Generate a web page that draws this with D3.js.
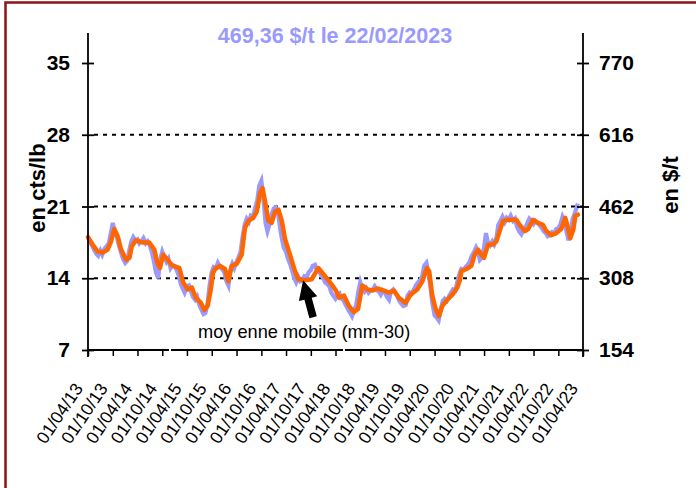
<!DOCTYPE html>
<html>
<head>
<meta charset="utf-8">
<script src="https://cdn.jsdelivr.net/npm/d3@7"></script>
<style>
  body { margin: 0; background: #fff; }
  svg text { font-family: Arial, "Liberation Sans", sans-serif; }
</style>
</head>
<body>
<div id="chart"></div>
<script>
// moving average (mm-30)
var maDates = ["2013-04-01","2013-05-05","2013-06-11","2013-07-18","2013-08-24","2013-09-18","2013-10-12","2013-11-06","2013-12-01",
  "2014-01-07","2014-02-01","2014-02-18","2014-03-20","2014-05-08","2014-06-26","2014-08-03","2014-08-28","2014-09-14","2014-10-08","2014-11-10","2014-12-16",
  "2015-02-04","2015-03-04","2015-04-06","2015-05-07","2015-06-06","2015-07-13","2015-08-07","2015-09-01","2015-09-25","2015-10-10","2015-10-25","2015-12-01",
  "2016-01-07","2016-02-01","2016-02-25","2016-04-02","2016-05-09","2016-06-02","2016-06-27","2016-08-03","2016-08-28","2016-09-22","2016-10-09","2016-10-28","2016-11-22","2016-12-16",
  "2017-01-10","2017-02-04","2017-03-01","2017-03-25","2017-04-30","2017-06-06","2017-07-01","2017-08-18","2017-10-07","2017-11-25",
  "2018-01-14","2018-03-03","2018-04-04","2018-04-27","2018-06-03","2018-07-09","2018-08-15","2018-09-14","2018-10-16","2018-11-22","2018-12-28",
  "2019-02-04","2019-03-24","2019-04-30","2019-06-06","2019-07-12","2019-09-01","2019-10-07","2019-11-25",
  "2020-01-02","2020-02-04","2020-02-21","2020-03-15","2020-04-09","2020-05-03","2020-05-28","2020-07-04","2020-08-10","2020-09-16","2020-10-06","2020-10-16","2020-11-22","2020-12-28",
  "2021-01-22","2021-02-16","2021-03-11","2021-04-01","2021-05-01","2021-06-07","2021-07-01","2021-07-25","2021-08-19","2021-09-25","2021-11-01","2021-11-25","2021-12-20",
  "2022-01-27","2022-02-21","2022-03-28","2022-05-04","2022-06-10","2022-07-04","2022-08-10","2022-09-16","2022-10-22","2022-11-21","2022-12-12","2022-12-28",
  "2023-01-19","2023-02-04","2023-02-22"];
var maValues = [18.0,17.3,16.6,16.5,16.8,17.6,18.8,18.1,16.8,
  15.8,16.0,17.1,17.7,17.5,17.5,16.8,15.4,15.0,16.3,15.8,15.2,
  15.0,13.6,12.9,13.1,12.1,11.6,10.9,11.3,13.0,14.5,14.9,15.2,
  14.9,13.7,15.2,15.4,16.3,18.9,19.6,19.9,20.5,22.3,22.8,21.5,19.6,19.4,
  20.5,20.7,19.6,17.8,16.3,14.7,13.9,13.8,13.9,15.0,
  14.2,13.4,12.8,12.1,12.3,11.3,10.7,11.0,13.3,12.9,12.8,
  13.0,12.8,12.6,12.8,12.1,11.6,12.4,12.9,
  13.7,15.0,14.7,12.3,11.0,10.3,11.3,11.9,12.4,13.1,13.9,14.7,14.9,15.2,
  16.3,16.8,16.3,16.0,17.3,17.3,17.6,18.6,19.6,19.7,19.7,19.7,19.2,
  18.6,18.8,19.7,19.4,19.2,18.6,18.2,18.4,18.8,19.9,18.9,17.9,
  18.7,20.1,20.2];

// daily price, sampled on the 1st and 15th of each month from 01/04/2013
var priceStart = "2013-04-01";
var prices = [
  18.0,17.6, 17.2,16.8, 16.4,16.2, 16.7,16.3, 16.9,17.1, 17.4,18.3, 19.4,18.6, 18.0,17.2, 16.5,15.9,
  15.5,15.7, 16.8,17.6, 18.0,17.7, 17.8,17.4, 17.6,17.9, 17.4,17.6, 17.2,16.6, 15.6,14.6, 14.0,15.8, 16.6,16.1, 15.6,15.9, 15.0,15.3,
  15.2,14.8, 14.2,13.4, 13.0,12.6, 13.2,13.3, 12.7,12.2, 11.9,12.2, 11.4,11.0, 10.5,10.6, 11.6,13.3, 14.6,15.1, 15.0,15.5, 15.1,14.9,
  14.6,13.8, 13.3,14.8, 15.4,15.0, 15.6,16.0, 16.6,18.0, 19.3,19.8, 19.5,20.1, 20.0,20.8, 21.6,23.0, 23.5,22.0, 19.4,18.6, 19.3,20.2,
  20.8,20.9, 20.4,19.0, 17.9,17.0, 16.6,15.9, 15.4,14.8, 14.0,13.6, 14.1,13.7, 13.8,14.2, 14.1,14.6, 14.8,15.2, 15.3,14.8, 14.7,14.3,
  14.0,13.6, 13.4,13.2, 12.6,12.3, 12.0,12.3, 12.5,12.0, 11.8,11.4, 11.0,10.7, 10.3,10.8, 11.4,12.6, 13.6,13.0, 12.7,13.0, 12.6,12.8,
  12.9,13.2, 12.8,12.7, 12.4,12.8, 12.6,12.2, 11.9,12.7, 12.9,12.6, 12.3,11.8, 11.5,11.3, 11.4,12.3, 12.6,12.5, 12.9,13.3, 13.6,13.8,
  14.2,15.2, 15.5,14.6, 13.2,11.6, 10.4,10.2, 9.9,10.9, 11.8,12.0, 11.8,12.2, 12.6,12.9, 12.8,13.6, 14.4,14.9, 14.8,15.1, 15.3,15.6,
  16.2,16.5, 17.0,16.6, 15.8,16.0, 17.0,18.4, 17.4,17.2, 17.6,17.3, 17.9,19.2, 19.6,20.0, 19.5,19.9, 19.7,20.1, 19.6,19.8, 19.0,18.6,
  18.3,18.7, 18.9,19.4, 19.8,19.6, 19.3,19.6, 19.4,19.2, 18.9,18.6, 18.4,18.1, 18.2,18.5, 18.4,18.8, 18.9,19.2, 20.0,19.6, 18.5,17.7,
  18.6,19.8, 20.4,21.0];
var lastDate = "2023-02-22";
var lastPrice = 21.29;   // 469,36 $/t

var leftTicks = [7, 14, 21, 28, 35];
var rightTicks = [154, 308, 462, 616, 770];
var gridTicks = [14, 21, 28];
var xTickDates = ["2013-04-01","2013-10-01","2014-04-01","2014-10-01","2015-04-01","2015-10-01","2016-04-01",
  "2016-10-01","2017-04-01","2017-10-01","2018-04-01","2018-10-01","2019-04-01","2019-10-01","2020-04-01",
  "2020-10-01","2021-04-01","2021-10-01","2022-04-01","2022-10-01","2023-04-01"];
var titleText = "469,36 $/t le 22/02/2023";
var noteText = "moy enne mobile (mm-30)";
var noteDate = "2017-08-05", noteValue = 13.8;

var parse = d3.timeParse("%Y-%m-%d");
var fmt = d3.timeFormat("%d/%m/%y");

var W = 696, H = 488;
var svg = d3.select("#chart").append("svg").attr("width", W).attr("height", H);

var x = d3.scaleTime().domain([parse("2013-04-01"), parse("2023-04-01")]).range([88, 583]);
var yL = d3.scaleLinear().domain([7, 35]).range([350, 63]);
var yR = d3.scaleLinear().domain([154, 770]).range([350, 63]);

// frame
svg.append("rect").attr("x", 5.5).attr("y", 2.5).attr("width", 720).attr("height", 520)
  .attr("fill", "none").attr("stroke", "#8b1414").attr("stroke-width", 2.5);

// title
svg.append("text").attr("x", 335).attr("y", 43).attr("text-anchor", "middle")
  .style("font-size", "21.5px").style("font-weight", "bold").attr("fill", "#9999ff")
  .text(titleText);

// grid
svg.selectAll(".grid").data(gridTicks).enter().append("line")
  .attr("x1", 94).attr("x2", 583)
  .attr("y1", function (d) { return yL(d); }).attr("y2", function (d) { return yL(d); })
  .attr("stroke", "#000").attr("stroke-width", 1.8).attr("stroke-dasharray", "4,5");

// price line
var priceData = prices.map(function (v, i) {
  var dt = d3.timeMonth.offset(parse(priceStart), Math.floor(i / 2));
  if (i % 2) dt = d3.timeDay.offset(dt, 14);
  return { date: dt, value: v };
});
priceData.push({ date: parse(lastDate), value: lastPrice });

var line = d3.line().x(function (d) { return x(d.date); }).y(function (d) { return yL(d.value); });

svg.append("path").datum(priceData).attr("d", line)
  .attr("fill", "none").attr("stroke", "#9999ff").attr("stroke-width", 4.2);

var maData = maDates.map(function (d, i) { return { date: parse(d), value: maValues[i] }; });
svg.append("path").datum(maData).attr("d", line)
  .attr("fill", "none").attr("stroke", "#ff6600").attr("stroke-width", 4.5)
  .attr("stroke-linejoin", "round").attr("stroke-linecap", "round");

// axes
var axL = svg.append("g").attr("transform", "translate(88,0)")
  .call(d3.axisLeft(yL).tickValues(leftTicks).tickSize(6).tickPadding(12));
var axR = svg.append("g").attr("transform", "translate(583,0)")
  .call(d3.axisRight(yR).tickValues(rightTicks).tickSize(6).tickPadding(10));
[axL, axR].forEach(function (g) {
  g.select(".domain").remove();
  g.selectAll(".tick line").attr("x1", function () { return -d3.select(this).attr("x2"); })
    .attr("stroke-width", 1.8);
  g.selectAll("text").style("font-size", "21px").style("font-weight", "bold")
    .attr("font-family", null);
});
svg.append("line").attr("x1", 88).attr("x2", 88).attr("y1", 33).attr("y2", 357).attr("stroke", "#000").attr("stroke-width", 1.8);
svg.append("line").attr("x1", 583).attr("x2", 583).attr("y1", 33).attr("y2", 357).attr("stroke", "#000").attr("stroke-width", 1.8);

var axB = svg.append("g").attr("transform", "translate(0,350)")
  .call(d3.axisBottom(x).tickValues(xTickDates.map(parse)).tickFormat(fmt).tickSize(6));
axB.select(".domain").remove();
axB.selectAll(".tick line").attr("stroke-width", 1.5);
axB.selectAll("text").attr("font-family", null)
  .style("font-size", "17.5px").attr("text-anchor", "end")
  .attr("x", 0).attr("y", 0).attr("dy", "0.35em")
  .attr("transform", "translate(-10,35) rotate(-56)");
svg.append("line").attr("x1", 88).attr("x2", 583).attr("y1", 350).attr("y2", 350)
  .attr("stroke", "#000").attr("stroke-width", 1.8);
// small breaks of the axis line under the note box
[170, 344].forEach(function (bx) {
  svg.append("rect").attr("x", bx - 1).attr("y", 348).attr("width", 2).attr("height", 4).attr("fill", "#fff");
});

// axis titles
svg.append("text").attr("transform", "translate(45,188) rotate(-90)").attr("text-anchor", "middle")
  .style("font-size", "22px").style("font-weight", "bold").text("en cts/lb");
svg.append("text").attr("transform", "translate(678,185) rotate(-90)").attr("text-anchor", "middle")
  .style("font-size", "22px").style("font-weight", "bold").text("en $/t");

// note and arrow
var tipX = x(parse(noteDate)), tipY = yL(noteValue);
var tailX = tipX + 10, tailY = tipY + 37;
var ang = Math.atan2(tipY - tailY, tipX - tailX);
var ux = Math.cos(ang), uy = Math.sin(ang), px = -uy, py = ux;
var headL = 19, headW = 9.5, shaftW = 3.8;
var bx0 = tipX - ux * headL, by0 = tipY - uy * headL;
var pts = [
  [tipX, tipY],
  [bx0 + px * headW, by0 + py * headW],
  [bx0 + px * shaftW, by0 + py * shaftW],
  [tailX + px * shaftW, tailY + py * shaftW],
  [tailX - px * shaftW, tailY - py * shaftW],
  [bx0 - px * shaftW, by0 - py * shaftW],
  [bx0 - px * headW, by0 - py * headW]
];
svg.append("path").attr("d", "M" + pts.map(function (p) { return p.join(","); }).join("L") + "Z")
  .attr("fill", "#000");
svg.append("text").attr("x", 198).attr("y", 338).style("font-size", "18.2px").text(noteText);
</script>
</body>
</html>
